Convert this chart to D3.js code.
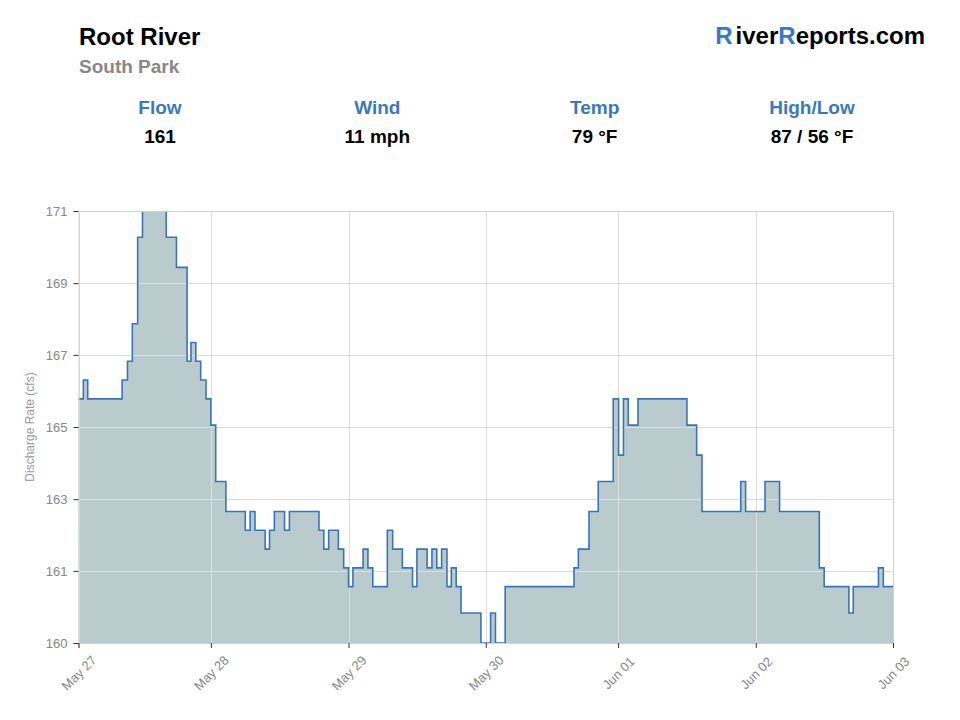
<!DOCTYPE html>
<html>
<head>
<meta charset="utf-8">
<script src="https://cdn.jsdelivr.net/npm/d3@7"></script>
<style>
  body { margin: 0; background: #fff; font-family: "Liberation Sans", Arial, Helvetica, sans-serif; }
  .tick text { fill: #888; font-size: 13px; }
  .grid line { stroke: #dedede; }
</style>
</head>
<body>
<svg id="chart" width="960" height="720"></svg>
<script>
/* ~~~~~~~~~ DATA ~~~~~~~~~ */

// header stats
var statLabels = ["Flow", "Wind", "Temp", "High/Low"];
var statValues = ["161", "11 mph", "79 °F", "87 / 56 °F"];

// step change points: hours after May 27 00:00 and discharge (cfs) from that hour on
var hours = [0, 1.0, 1.9, 9.0, 10.1, 11.1, 12.2, 13.2, 18.1, 20.2, 22.4, 23.2, 24.2, 25.2, 26.3, 27.3,
    28.3, 30.4, 34.4, 35.4, 36.4, 38.5, 39.4, 40.4, 42.5, 43.5, 49.6, 50.6, 51.6, 53.6, 54.7, 55.7,
    56.6, 58.7, 59.7, 60.7, 63.7, 64.8, 66.8, 68.9, 69.8, 71.9, 72.9, 73.9, 74.9, 76.0, 76.9, 77.9,
    78.9, 83.0, 85.0, 86.0, 88.0, 102.2, 103.1, 105.3, 107.2, 110.3, 111.4, 112.4, 113.4, 115.4,
    125.5, 127.5, 128.6, 136.6, 137.6, 141.6, 144.6, 152.8, 153.8, 158.9, 159.8, 165.0, 166.0, 168];
var discharge = [166.0, 166.5, 166.0, 166.5, 167.0, 168.0, 170.3, 171.3, 170.3, 169.5, 167.0, 167.5, 167.0, 166.5, 166.0, 165.3,
    163.8, 163.0, 162.5, 163.0, 162.5, 162.0, 162.5, 163.0, 162.5, 163.0, 162.5, 162.0, 162.5, 162.0, 161.5, 161.0,
    161.5, 162.0, 161.5, 161.0, 162.5, 162.0, 161.5, 161.0, 162.0, 161.5, 162.0, 161.5, 162.0, 161.0, 161.5, 161.0,
    160.3, 159.5, 160.3, 159.5, 161.0, 161.5, 162.0, 163.0, 163.8, 166.0, 164.5, 166.0, 165.3, 166.0,
    165.3, 164.5, 163.0, 163.8, 163.0, 163.8, 163.0, 161.5, 161.0, 160.3, 161.0, 161.5, 161.0, 161.0];

// axis ticks
var xTickHours = [0, 27.3, 55.7, 84, 111.3, 139.7, 168];
var xTickLabels = ["May 27", "May 28", "May 29", "May 30", "Jun 01", "Jun 02", "Jun 03"];
var yTickValues = [159.5, 161.42, 163.33, 165.25, 167.17, 169.08, 171];
var yTickLabels = ["160", "161", "163", "165", "167", "169", "171"];

var values = hours.map(function(h, i){ return {hour: h, cfs: discharge[i]}; });

/* ~~~~~~~~~ SVG SETUP ~~~~~~~~~ */

var svg = d3.select("#chart");
var plotLeft = 78.5, plotRight = 893, plotTop = 211, plotBottom = 643;

var x = d3.scaleLinear().domain([0, 168]).range([plotLeft, plotRight]);
var y = d3.scaleLinear().domain([159.5, 171]).range([plotBottom, plotTop]);

/* ~~~~~~~~~ HEADER ~~~~~~~~~ */

svg.append("text").attr("x", 79).attr("y", 45)
    .style("font-size", "24px").style("font-weight", "bold").attr("fill", "#000")
    .text("Root River");
svg.append("text").attr("x", 79).attr("y", 73)
    .style("font-size", "19px").style("font-weight", "bold").attr("fill", "#888")
    .text("South Park");

var brand = svg.append("text").attr("x", 925).attr("y", 44).attr("text-anchor", "end")
    .style("font-size", "24px").style("font-weight", "bold").attr("fill", "#000");
brand.append("tspan").attr("fill", "#3a78c2").text("R");
brand.append("tspan").attr("dx", 3).text("iver");
brand.append("tspan").attr("fill", "#3a78c2").text("R");
brand.append("tspan").text("eports.com");

var statX = d3.scalePoint().domain(statLabels).range([160, 812]);
var stats = svg.append("g").selectAll("g")
    .data(statLabels)
    .enter()
    .append("g")
    .attr("transform", function(d){ return "translate(" + statX(d) + ",0)"; });
stats.append("text").attr("y", 114).attr("text-anchor", "middle")
    .style("font-size", "19px").style("font-weight", "bold").attr("fill", "#3a78c2")
    .text(function(d){ return d; });
stats.append("text").attr("y", 143).attr("text-anchor", "middle")
    .style("font-size", "19px").style("font-weight", "bold").attr("fill", "#000")
    .text(function(d, i){ return statValues[i]; });

/* ~~~~~~~~~ PLOT ~~~~~~~~~ */

svg.append("clipPath").attr("id", "plotClip")
    .append("rect").attr("x", plotLeft - 2).attr("y", plotTop)
    .attr("width", plotRight - plotLeft + 4).attr("height", plotBottom - plotTop + 4);

var area = d3.area()
    .curve(d3.curveStepAfter)
    .x(function(d){ return x(d.hour); })
    .y0(plotBottom)
    .y1(function(d){ return y(d.cfs); });

var line = d3.line()
    .curve(d3.curveStepAfter)
    .x(function(d){ return x(d.hour); })
    .y(function(d){ return y(d.cfs); });

svg.append("path").datum(values)
    .attr("clip-path", "url(#plotClip)")
    .attr("d", area)
    .attr("fill", "#bacbcd");

// grid lines sit over the fill
var grid = svg.append("g").attr("class", "grid");
grid.selectAll(".h").data(yTickValues).enter().append("line")
    .attr("x1", plotLeft).attr("x2", plotRight)
    .attr("y1", function(d){ return Math.round(y(d)) + 0.5; })
    .attr("y2", function(d){ return Math.round(y(d)) + 0.5; });
grid.selectAll(".v").data(xTickHours).enter().append("line")
    .attr("y1", plotTop).attr("y2", plotBottom)
    .attr("x1", function(d){ return Math.round(x(d)) + 0.5; })
    .attr("x2", function(d){ return Math.round(x(d)) + 0.5; });

svg.append("path").datum(values)
    .attr("clip-path", "url(#plotClip)")
    .attr("d", line)
    .attr("fill", "none")
    .attr("stroke", "#3b73bb")
    .attr("stroke-width", 1.6);

/* ~~~~~~~~~ AXES ~~~~~~~~~ */

var yAxis = svg.append("g")
    .attr("transform", "translate(" + plotLeft + ",0)")
    .call(d3.axisLeft(y).tickValues(yTickValues).tickSize(5).tickPadding(6)
        .tickFormat(function(d, i){ return yTickLabels[i]; }));
yAxis.select(".domain").attr("stroke", "#d0d0d0");
yAxis.selectAll(".tick line").attr("stroke", "#333");

var xAxis = svg.append("g")
    .attr("transform", "translate(0," + plotBottom + ")")
    .call(d3.axisBottom(x).tickValues(xTickHours).tickSize(5)
        .tickFormat(function(d, i){ return xTickLabels[i]; }));
xAxis.select(".domain").attr("stroke", "#d0d0d0");
xAxis.selectAll(".tick line").attr("stroke", "#333");
xAxis.selectAll(".tick text")
    .attr("y", 0).attr("dy", null)
    .attr("text-anchor", "middle")
    .attr("dominant-baseline", "central")
    .attr("transform", "translate(0,30) rotate(-45)");

// frame on top and right
svg.append("path")
    .attr("d", "M" + plotLeft + "," + (plotTop + 0.5) + "H" + (plotRight + 0.5) + "V" + plotBottom)
    .attr("fill", "none").attr("stroke", "#d0d0d0");

svg.append("text")
    .attr("transform", "translate(34," + ((plotTop + plotBottom) / 2) + ") rotate(-90)")
    .attr("text-anchor", "middle")
    .style("font-size", "12px").attr("fill", "#999")
    .text("Discharge Rate (cfs)");
</script>
</body>
</html>
